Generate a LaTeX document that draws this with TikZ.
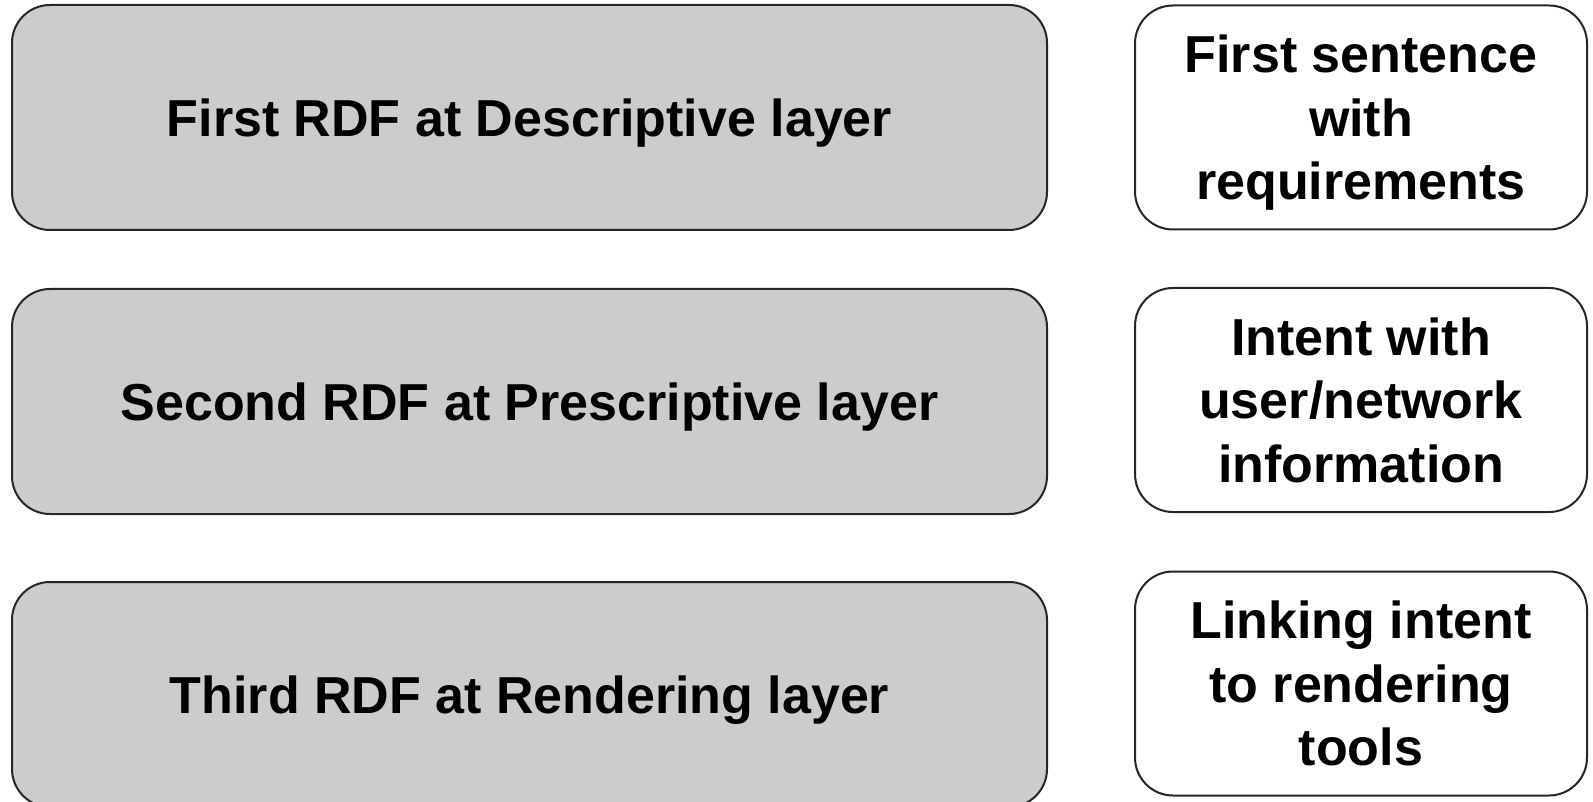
\documentclass[tikz,border=0pt]{standalone}
\usepackage{fontspec}
\setmainfont{Liberation Sans}
\usetikzlibrary{positioning}

\tikzset{
  layerbox/.style={draw=black!85, line width=2pt, rounded corners=38pt,
    fill=black!20, minimum width=1035pt, minimum height=225pt,
    inner sep=0pt, text depth=0pt, font=\fontsize{52}{63.5}\selectfont\bfseries},
  notebox/.style={draw=black!85, line width=2pt, rounded corners=38pt,
    fill=white, minimum width=452pt, minimum height=224pt, inner sep=0pt,
    text depth=0pt, align=center, font=\fontsize{52}{63.5}\selectfont\bfseries}
}

\begin{document}
\begin{tikzpicture}[x=1pt, y=-1pt]

  % page frame
  \useasboundingbox (0,0) rectangle (1593,802);
  \clip (0,0) rectangle (1593,802);

  % RDF layers
  \node[layerbox] (desc) at (529.5,117.5) {First RDF at Descriptive layer};
  \node[layerbox] (presc) at (529.5,401.5) {Second RDF at Prescriptive layer};
  \node[layerbox] (rend) at (529.5,694.5) {Third RDF at Rendering layer};

  % what each layer holds
  \node[notebox] (sent) at (1361,117.5) {First sentence\\with\\requirements};
  \node[notebox] (intent) at (1361,400) {Intent with\\user/network\\information};
  \node[notebox] (link) at (1361,683.5) {Linking intent\\to rendering\\tools};

\end{tikzpicture}
\end{document}
